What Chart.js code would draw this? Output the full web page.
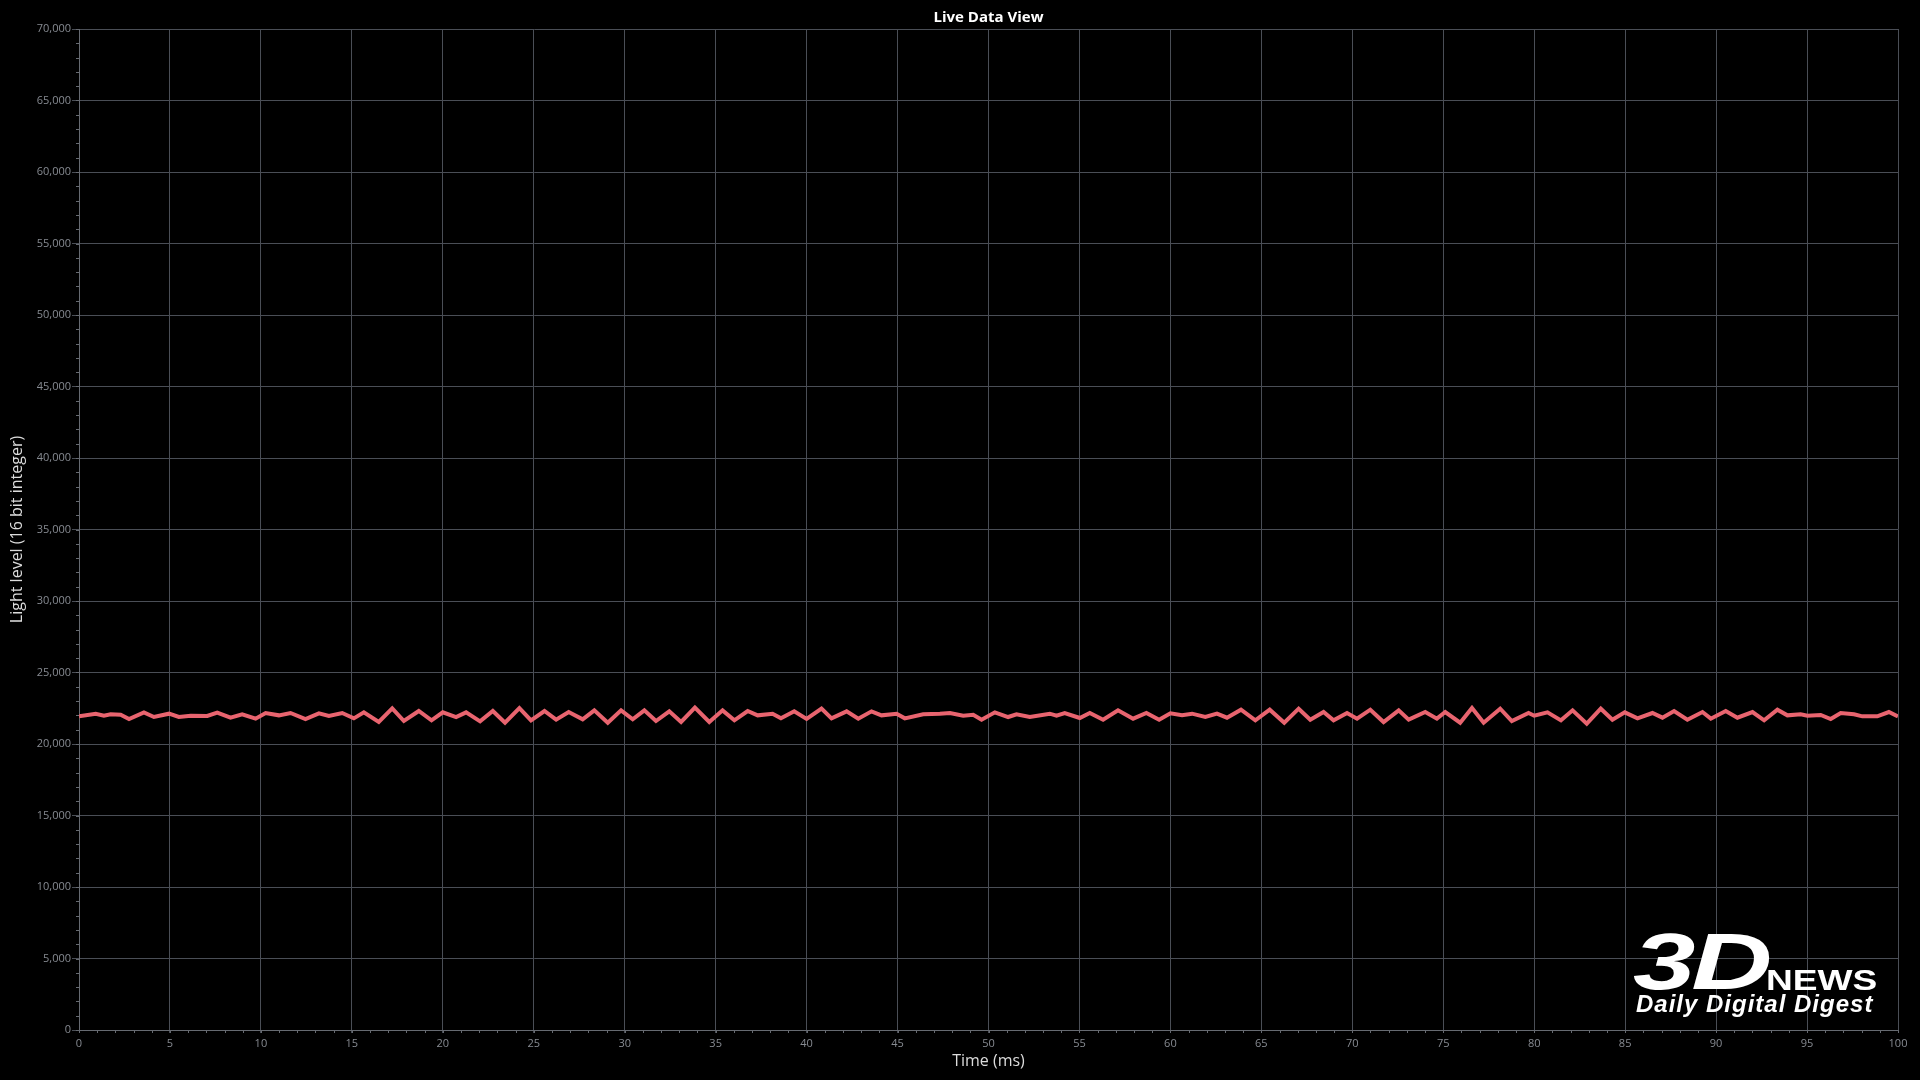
<!DOCTYPE html>
<html>
<head>
<meta charset="utf-8">
<script src="https://cdn.jsdelivr.net/npm/chart.js@4.4.0/dist/chart.umd.min.js"></script>
<style>
  html, body { margin: 0; padding: 0; background: #000; }
  #wrap { position: relative; width: 1920px; height: 1080px; }
  .logo { position: absolute; color: #fff; font-family: "Liberation Sans", Arial, sans-serif; font-weight: bold; line-height: 1; white-space: nowrap; transform-origin: left top; }
  #logo3d { left: 1633px; top: 922px; font-size: 79px; font-style: italic; transform: scaleX(1.42); letter-spacing: -3px; }
  #logoNews { left: 1766px; top: 966px; font-size: 29px; transform: scaleX(1.28); }
  #logoSub { left: 1636px; top: 992px; font-size: 24px; font-style: italic; letter-spacing: 1px; }
</style>
</head>
<body>
<div id="wrap">
  <canvas id="liveChart" width="1920" height="1080"></canvas>
  <div class="logo" id="logo3d">3D</div>
  <div class="logo" id="logoNews">NEWS</div>
  <div class="logo" id="logoSub">Daily Digital Digest</div>
</div>
<script>
// time (ms) of each peak / trough
const times = [
  0, 0.92, 1.37, 1.74, 2.29, 2.75, 3.57, 4.12, 4.95, 5.49, 6.14, 7.05, 7.6, 8.33, 8.97, 9.71,
  10.26, 10.99, 11.63, 12.45, 13.19, 13.74, 14.47, 15.11, 15.66, 16.48, 17.22, 17.86, 18.68, 19.38,
  20.0, 20.73, 21.28, 22.05, 22.75, 23.42, 24.21, 24.85, 25.59, 26.23, 26.92, 27.69, 28.33, 29.07, 29.8,
  30.44, 31.08, 31.72, 32.45, 33.1, 33.86, 34.65, 35.38, 36.03, 36.76, 37.31, 38.13, 38.59, 39.32,
  40.0, 40.82, 41.37, 42.2, 42.84, 43.57, 44.12, 44.95, 45.4, 46.41, 47.33, 47.88, 48.61, 49.16, 49.62,
  50.35, 51.08, 51.54, 52.27, 53.37, 53.74, 54.19, 55.02, 55.57, 56.3, 57.12, 57.95, 58.68, 59.38,
  60.0, 60.64, 61.19, 61.92, 62.56, 63.11, 63.88, 64.67, 65.46, 66.26, 67.05, 67.69, 68.42, 68.97, 69.71,
  70.26, 70.99, 71.72, 72.55, 73.1, 74.01, 74.65, 75.11, 75.93, 76.58, 77.22, 78.13, 78.77, 79.69,
  80.0, 80.73, 81.47, 82.11, 82.89, 83.66, 84.3, 84.98, 85.68, 86.5, 87.05, 87.69, 88.42, 89.25, 89.71,
  90.53, 91.17, 92.0, 92.64, 93.37, 93.92, 94.65, 95.02, 95.75, 96.3, 96.85, 97.58, 98.04, 98.86, 99.5, 100
];
const lightLevel = [
  21934, 22120, 21981, 22074, 22050, 21748, 22214, 21887, 22120, 21887, 21981, 21957, 22190, 21841, 22074, 21771,
  22167, 22004, 22167, 21748, 22144, 21957, 22167, 21794, 22214, 21538, 22493, 21608, 22307, 21654,
  22214, 21887, 22214, 21584, 22307, 21491, 22516, 21654, 22307, 21701, 22237, 21724, 22353, 21491, 22353,
  21724, 22353, 21608, 22283, 21538, 22540, 21538, 22353, 21654, 22307, 22004, 22120, 21794, 22283,
  21750, 22470, 21794, 22283, 21771, 22283, 22004, 22120, 21794, 22074, 22120, 22167, 21981, 22050, 21701,
  22214, 21887, 22074, 21887, 22120, 21981, 22167, 21817, 22167, 21701, 22353, 21771, 22167, 21701,
  22150, 22004, 22120, 21887, 22120, 21841, 22400, 21654, 22400, 21491, 22470, 21701, 22237, 21654, 22167,
  21771, 22400, 21538, 22353, 21701, 22237, 21771, 22237, 21491, 22516, 21491, 22470, 21608, 22167,
  21980, 22214, 21654, 22353, 21421, 22470, 21701, 22214, 21794, 22167, 21841, 22307, 21701, 22237, 21771,
  22307, 21841, 22237, 21654, 22400, 22004, 22074, 21981, 22027, 21748, 22167, 22074, 21934, 21934, 22237, 21934
];
const xTicksMajor = 5;
const yTicksMajor = 5000;
const xMinorStep = 1;
const yMinorStep = 1000;

const gridColor = '#4a4e56';
const tickColor = '#878b92';
const labelColor = '#dcdcdc';

// minor tick marks and the centred title
const extras = {
  id: 'extras',
  afterDraw(chart) {
    const ctx = chart.ctx;
    const xs = chart.scales.x, ys = chart.scales.y;
    const area = chart.chartArea;
    ctx.save();
    ctx.strokeStyle = '#666a71';
    ctx.lineWidth = 1;
    ctx.beginPath();
    for (let v = xs.min; v <= xs.max; v += xMinorStep) {
      const px = Math.round(xs.getPixelForValue(v)) + 0.5;
      ctx.moveTo(px, area.bottom);
      ctx.lineTo(px, area.bottom + 3);
    }
    for (let v = ys.min; v <= ys.max; v += yMinorStep) {
      const py = Math.round(ys.getPixelForValue(v)) + 0.5;
      ctx.moveTo(area.left - 3, py);
      ctx.lineTo(area.left, py);
    }
    ctx.stroke();
    ctx.fillStyle = '#ffffff';
    ctx.font = 'bold 15px "Open Sans", sans-serif';
    ctx.textAlign = 'center';
    ctx.textBaseline = 'middle';
    ctx.fillText('Live Data View', (area.left + area.right) / 2, 18);
    ctx.restore();
  }
};

const points = times.map((t, i) => ({ x: t, y: lightLevel[i] }));

new Chart(document.querySelector('#liveChart'), {
  type: 'line',
  data: {
    datasets: [{
      data: points,
      borderColor: '#e8646f',
      borderWidth: 4,
      pointRadius: 0,
      tension: 0,
      fill: false
    }]
  },
  options: {
    responsive: false,
    animation: false,
    layout: { padding: { top: 29, right: 22, bottom: 0, left: 0 } },
    plugins: { legend: { display: false }, tooltip: { enabled: false } },
    scales: {
      x: {
        type: 'linear',
        min: 0, max: 100,
        afterFit: (s) => { s.height = 50; },
        ticks: { stepSize: xTicksMajor, color: tickColor, padding: 4, maxRotation: 0, font: { family: 'Open Sans', size: 11 } },
        grid: { color: gridColor, tickLength: 3 },
        border: { color: '#666a71' },
        title: { display: true, text: 'Time (ms)', color: labelColor, padding: { top: 0, bottom: 9 }, font: { family: 'Open Sans', size: 16 } }
      },
      y: {
        min: 0, max: 70000,
        afterFit: (s) => { s.width = 79; },
        ticks: {
          stepSize: yTicksMajor, color: tickColor, padding: 1,
          font: { family: 'Open Sans', size: 11 },
          callback: (v) => v.toLocaleString('en-US')
        },
        grid: { color: gridColor, tickLength: 7 },
        border: { color: '#666a71' },
        title: { display: true, text: 'Light level (16 bit integer)', color: labelColor, padding: { top: 8, bottom: 0 }, font: { family: 'Open Sans', size: 16 } }
      }
    }
  },
  plugins: [extras]
});
</script>
</body>
</html>
